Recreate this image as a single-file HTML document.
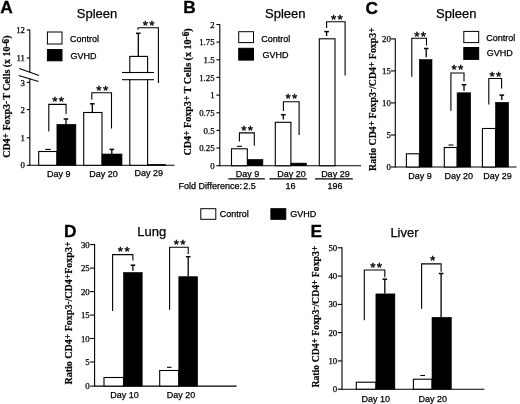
<!DOCTYPE html>
<html><head><meta charset="utf-8"><title>Figure</title>
<style>
html,body{margin:0;padding:0;background:#fff;}
body{width:520px;height:404px;overflow:hidden;font-family:"Liberation Sans",sans-serif;}
svg{display:block;filter:grayscale(1);}
text{fill:#000;}
</style></head><body>
<svg width="520" height="404" viewBox="0 0 520 404">
<rect x="0" y="0" width="520" height="404" fill="#fff"/>
<text x="0.3" y="13.3" font-size="17.3" text-anchor="start" font-family="Liberation Sans" font-weight="bold" stroke="#000" stroke-width="0.3">A</text>
<text x="76.8" y="18.0" font-size="13.0" text-anchor="start" font-family="Liberation Sans" font-weight="normal" stroke="#000" stroke-width="0.25">Spleen</text>
<line x1="29.8" y1="29.5" x2="29.8" y2="165.8" stroke="#000" stroke-width="1.1"/>
<line x1="26.8" y1="30.0" x2="29.8" y2="30.0" stroke="#000" stroke-width="1.1"/>
<text x="25.0" y="33.1" font-size="8.8" text-anchor="end" font-family="Liberation Serif" font-weight="normal" stroke="#000" stroke-width="0.25">12</text>
<line x1="26.8" y1="58.0" x2="29.8" y2="58.0" stroke="#000" stroke-width="1.1"/>
<text x="25.0" y="61.1" font-size="8.8" text-anchor="end" font-family="Liberation Serif" font-weight="normal" stroke="#000" stroke-width="0.25">11</text>
<line x1="26.8" y1="82.4" x2="29.8" y2="82.4" stroke="#000" stroke-width="1.1"/>
<text x="25.0" y="85.5" font-size="8.8" text-anchor="end" font-family="Liberation Serif" font-weight="normal" stroke="#000" stroke-width="0.25">3</text>
<line x1="26.8" y1="109.6" x2="29.8" y2="109.6" stroke="#000" stroke-width="1.1"/>
<text x="25.0" y="112.7" font-size="8.8" text-anchor="end" font-family="Liberation Serif" font-weight="normal" stroke="#000" stroke-width="0.25">2</text>
<line x1="26.8" y1="137.8" x2="29.8" y2="137.8" stroke="#000" stroke-width="1.1"/>
<text x="25.0" y="140.9" font-size="8.8" text-anchor="end" font-family="Liberation Serif" font-weight="normal" stroke="#000" stroke-width="0.25">1</text>
<line x1="26.8" y1="165.3" x2="29.8" y2="165.3" stroke="#000" stroke-width="1.1"/>
<text x="25.0" y="168.4" font-size="8.8" text-anchor="end" font-family="Liberation Serif" font-weight="normal" stroke="#000" stroke-width="0.25">0</text>
<rect x="28" y="72.3" width="4" height="6" fill="#fff"/>
<line x1="19.3" y1="68.6" x2="39.1" y2="75.4" stroke="#000" stroke-width="1.1"/>
<line x1="18.7" y1="75.4" x2="38.5" y2="81.6" stroke="#000" stroke-width="1.1"/>
<line x1="29.8" y1="165.3" x2="174.5" y2="165.3" stroke="#000" stroke-width="1.1"/>
<text transform="translate(10.3,157.8) rotate(-90)" font-size="10.4" font-family="Liberation Serif" font-weight="bold" stroke="#000" stroke-width="0.2" textLength="122.3" lengthAdjust="spacingAndGlyphs">CD4<tspan dy="-1.0" font-size="95%">+</tspan><tspan dy="1.0" font-size="1">&#8203;</tspan> Foxp3<tspan dy="-1.8" font-size="92%">-</tspan><tspan dy="1.8" font-size="1">&#8203;</tspan><tspan font-size="5"> </tspan>T Cells (x 10<tspan dy="-1.8" font-size="92%">-6</tspan><tspan dy="1.8" font-size="1">&#8203;</tspan>)</text>
<rect x="47.4" y="32.0" width="14.6" height="12.0" fill="#fff" stroke="#000" stroke-width="1"/>
<rect x="47.4" y="49.5" width="14.6" height="11.3" fill="#000" stroke="#000" stroke-width="1"/>
<text x="70.0" y="41.5" font-size="9.0" text-anchor="start" font-family="Liberation Sans" font-weight="normal" stroke="#000" stroke-width="0.25">Control</text>
<text x="70.5" y="58.5" font-size="9.0" text-anchor="start" font-family="Liberation Sans" font-weight="normal" stroke="#000" stroke-width="0.25">GVHD</text>
<rect x="38.7" y="151.5" width="18.2" height="13.8" fill="#fff" stroke="#000" stroke-width="1.1"/>
<rect x="56.9" y="124.3" width="19.0" height="41.0" fill="#000" stroke="#000" stroke-width="0.6"/>
<line x1="45.3" y1="149.4" x2="50.8" y2="149.4" stroke="#000" stroke-width="1.1"/>
<line x1="66.0" y1="119.0" x2="66.0" y2="124.3" stroke="#000" stroke-width="1.3"/>
<line x1="63.7" y1="119.0" x2="68.3" y2="119.0" stroke="#000" stroke-width="1.5"/>
<polyline points="48.8,131.5 48.8,104.4 66.1,104.4 66.1,113.9" fill="none" stroke="#000" stroke-width="1.1"/>
<text x="58.8" y="105.8" font-size="13.5" text-anchor="middle" font-family="Liberation Sans" font-weight="normal" letter-spacing="1.3" stroke="#000" stroke-width="0.4">**</text>
<rect x="83.7" y="112.5" width="18.3" height="52.8" fill="#fff" stroke="#000" stroke-width="1.1"/>
<rect x="102.0" y="154.0" width="20.0" height="11.3" fill="#000" stroke="#000" stroke-width="0.6"/>
<line x1="92.3" y1="103.8" x2="92.3" y2="112.5" stroke="#000" stroke-width="1.3"/>
<line x1="90.0" y1="103.8" x2="94.6" y2="103.8" stroke="#000" stroke-width="1.5"/>
<line x1="111.8" y1="149.4" x2="111.8" y2="154.0" stroke="#000" stroke-width="1.3"/>
<line x1="109.5" y1="149.4" x2="114.1" y2="149.4" stroke="#000" stroke-width="1.5"/>
<polyline points="91.8,99.8 91.8,92.8 111.5,92.8 111.5,128.6" fill="none" stroke="#000" stroke-width="1.1"/>
<text x="102.9" y="94.5" font-size="13.5" text-anchor="middle" font-family="Liberation Sans" font-weight="normal" letter-spacing="1.3" stroke="#000" stroke-width="0.4">**</text>
<rect x="129.8" y="56.4" width="17.8" height="108.9" fill="#fff" stroke="#000" stroke-width="1.1"/>
<rect x="147.6" y="164.3" width="17.9" height="1.0" fill="#000" stroke="#000" stroke-width="0.6"/>
<rect x="120" y="73.1" width="36" height="6" fill="#fff"/>
<line x1="122.0" y1="72.5" x2="153.9" y2="72.5" stroke="#000" stroke-width="1.1"/>
<line x1="122.0" y1="79.7" x2="153.9" y2="79.7" stroke="#000" stroke-width="1.1"/>
<line x1="138.3" y1="33.3" x2="138.3" y2="56.4" stroke="#000" stroke-width="1.3"/>
<line x1="136.0" y1="33.3" x2="140.6" y2="33.3" stroke="#000" stroke-width="1.5"/>
<polyline points="138.0,29.8 138.0,27.8 158.4,27.8 158.4,83.0" fill="none" stroke="#000" stroke-width="1.1"/>
<text x="149.3" y="29.7" font-size="13.5" text-anchor="middle" font-family="Liberation Sans" font-weight="normal" letter-spacing="1.3" stroke="#000" stroke-width="0.4">**</text>
<text x="58.7" y="177.0" font-size="9.0" text-anchor="middle" font-family="Liberation Sans" font-weight="normal" stroke="#000" stroke-width="0.25">Day 9</text>
<text x="103.5" y="177.0" font-size="9.0" text-anchor="middle" font-family="Liberation Sans" font-weight="normal" stroke="#000" stroke-width="0.25">Day 20</text>
<text x="148.8" y="176.1" font-size="9.0" text-anchor="middle" font-family="Liberation Sans" font-weight="normal" stroke="#000" stroke-width="0.25">Day 29</text>
<text x="183.3" y="12.8" font-size="17.3" text-anchor="start" font-family="Liberation Sans" font-weight="bold" stroke="#000" stroke-width="0.3">B</text>
<text x="265.0" y="18.0" font-size="13.0" text-anchor="start" font-family="Liberation Sans" font-weight="normal" stroke="#000" stroke-width="0.25">Spleen</text>
<line x1="219.8" y1="24.0" x2="219.8" y2="166.2" stroke="#000" stroke-width="1.1"/>
<line x1="216.4" y1="24.5" x2="219.8" y2="24.5" stroke="#000" stroke-width="1.1"/>
<text x="214.6" y="27.6" font-size="8.8" text-anchor="end" font-family="Liberation Serif" font-weight="normal" stroke="#000" stroke-width="0.25">2</text>
<line x1="216.4" y1="42.1" x2="219.8" y2="42.1" stroke="#000" stroke-width="1.1"/>
<text x="214.6" y="45.2" font-size="8.8" text-anchor="end" font-family="Liberation Serif" font-weight="normal" stroke="#000" stroke-width="0.25">1.75</text>
<line x1="216.4" y1="59.8" x2="219.8" y2="59.8" stroke="#000" stroke-width="1.1"/>
<text x="214.6" y="62.9" font-size="8.8" text-anchor="end" font-family="Liberation Serif" font-weight="normal" stroke="#000" stroke-width="0.25">1.5</text>
<line x1="216.4" y1="77.4" x2="219.8" y2="77.4" stroke="#000" stroke-width="1.1"/>
<text x="214.6" y="80.5" font-size="8.8" text-anchor="end" font-family="Liberation Serif" font-weight="normal" stroke="#000" stroke-width="0.25">1.25</text>
<line x1="216.4" y1="95.1" x2="219.8" y2="95.1" stroke="#000" stroke-width="1.1"/>
<text x="214.6" y="98.2" font-size="8.8" text-anchor="end" font-family="Liberation Serif" font-weight="normal" stroke="#000" stroke-width="0.25">1</text>
<line x1="216.4" y1="112.8" x2="219.8" y2="112.8" stroke="#000" stroke-width="1.1"/>
<text x="214.6" y="115.8" font-size="8.8" text-anchor="end" font-family="Liberation Serif" font-weight="normal" stroke="#000" stroke-width="0.25">0.75</text>
<line x1="216.4" y1="130.4" x2="219.8" y2="130.4" stroke="#000" stroke-width="1.1"/>
<text x="214.6" y="133.5" font-size="8.8" text-anchor="end" font-family="Liberation Serif" font-weight="normal" stroke="#000" stroke-width="0.25">0.5</text>
<line x1="216.4" y1="148.0" x2="219.8" y2="148.0" stroke="#000" stroke-width="1.1"/>
<text x="214.6" y="151.1" font-size="8.8" text-anchor="end" font-family="Liberation Serif" font-weight="normal" stroke="#000" stroke-width="0.25">0.25</text>
<line x1="216.4" y1="165.7" x2="219.8" y2="165.7" stroke="#000" stroke-width="1.1"/>
<text x="214.6" y="168.8" font-size="8.8" text-anchor="end" font-family="Liberation Serif" font-weight="normal" stroke="#000" stroke-width="0.25">0</text>
<line x1="219.8" y1="165.7" x2="361.0" y2="165.7" stroke="#000" stroke-width="1.1"/>
<text transform="translate(191.0,155.6) rotate(-90)" font-size="10.4" font-family="Liberation Serif" font-weight="bold" stroke="#000" stroke-width="0.2" textLength="127.3" lengthAdjust="spacingAndGlyphs">CD4<tspan dy="-1.0" font-size="95%">+</tspan><tspan dy="1.0" font-size="1">&#8203;</tspan> Foxp3<tspan dy="-1.0" font-size="95%">+</tspan><tspan dy="1.0" font-size="1">&#8203;</tspan> T Cells (x 10<tspan dy="-1.8" font-size="92%">-6</tspan><tspan dy="1.8" font-size="1">&#8203;</tspan>)</text>
<rect x="238.7" y="31.7" width="14.8" height="10.9" fill="#fff" stroke="#000" stroke-width="1"/>
<rect x="238.7" y="48.3" width="14.8" height="11.8" fill="#000" stroke="#000" stroke-width="1"/>
<text x="261.2" y="41.6" font-size="9.0" text-anchor="start" font-family="Liberation Sans" font-weight="normal" stroke="#000" stroke-width="0.25">Control</text>
<text x="262.5" y="58.0" font-size="9.0" text-anchor="start" font-family="Liberation Sans" font-weight="normal" stroke="#000" stroke-width="0.25">GVHD</text>
<rect x="231.5" y="148.8" width="15.8" height="16.9" fill="#fff" stroke="#000" stroke-width="1.1"/>
<rect x="247.3" y="159.4" width="15.6" height="6.3" fill="#000" stroke="#000" stroke-width="0.6"/>
<line x1="237.0" y1="146.3" x2="242.0" y2="146.3" stroke="#000" stroke-width="1.1"/>
<polyline points="239.4,141.6 239.4,132.9 254.3,132.9 254.3,145.8" fill="none" stroke="#000" stroke-width="1.1"/>
<text x="247.8" y="135.3" font-size="13.5" text-anchor="middle" font-family="Liberation Sans" font-weight="normal" letter-spacing="1.3" stroke="#000" stroke-width="0.4">**</text>
<rect x="275.3" y="122.3" width="15.6" height="43.4" fill="#fff" stroke="#000" stroke-width="1.1"/>
<rect x="290.9" y="163.1" width="15.6" height="2.6" fill="#000" stroke="#000" stroke-width="0.6"/>
<line x1="283.3" y1="114.7" x2="283.3" y2="119.5" stroke="#000" stroke-width="1.3"/>
<line x1="281.0" y1="114.7" x2="285.6" y2="114.7" stroke="#000" stroke-width="1.5"/>
<polyline points="283.4,111.0 283.4,101.7 299.1,101.7 299.1,135.0" fill="none" stroke="#000" stroke-width="1.1"/>
<text x="292.0" y="103.3" font-size="13.5" text-anchor="middle" font-family="Liberation Sans" font-weight="normal" letter-spacing="1.3" stroke="#000" stroke-width="0.4">**</text>
<rect x="319.3" y="38.8" width="15.7" height="126.9" fill="#fff" stroke="#000" stroke-width="1.1"/>
<line x1="326.6" y1="31.6" x2="326.6" y2="36.0" stroke="#000" stroke-width="1.3"/>
<line x1="324.3" y1="31.6" x2="328.9" y2="31.6" stroke="#000" stroke-width="1.5"/>
<polyline points="326.6,27.9 326.6,21.8 345.1,21.8 345.1,75.5" fill="none" stroke="#000" stroke-width="1.1"/>
<text x="337.5" y="23.7" font-size="13.5" text-anchor="middle" font-family="Liberation Sans" font-weight="normal" letter-spacing="1.3" stroke="#000" stroke-width="0.4">**</text>
<text x="247.6" y="176.9" font-size="9.0" text-anchor="middle" font-family="Liberation Sans" font-weight="normal" stroke="#000" stroke-width="0.25">Day 9</text>
<text x="291.6" y="176.9" font-size="9.0" text-anchor="middle" font-family="Liberation Sans" font-weight="normal" stroke="#000" stroke-width="0.25">Day 20</text>
<text x="335.4" y="176.9" font-size="9.0" text-anchor="middle" font-family="Liberation Sans" font-weight="normal" stroke="#000" stroke-width="0.25">Day 29</text>
<line x1="228.3" y1="178.9" x2="264.9" y2="178.9" stroke="#000" stroke-width="1.1"/>
<line x1="269.4" y1="178.9" x2="307.0" y2="178.9" stroke="#000" stroke-width="1.1"/>
<line x1="315.0" y1="178.9" x2="352.8" y2="178.9" stroke="#000" stroke-width="1.1"/>
<text x="178.6" y="189.3" font-size="9.0" text-anchor="start" font-family="Liberation Sans" font-weight="normal" stroke="#000" stroke-width="0.25">Fold Difference:</text>
<text x="249.5" y="189.3" font-size="9.0" text-anchor="middle" font-family="Liberation Sans" font-weight="normal" stroke="#000" stroke-width="0.25">2.5</text>
<text x="290.4" y="189.3" font-size="9.0" text-anchor="middle" font-family="Liberation Sans" font-weight="normal" stroke="#000" stroke-width="0.25">16</text>
<text x="335.0" y="189.3" font-size="9.0" text-anchor="middle" font-family="Liberation Sans" font-weight="normal" stroke="#000" stroke-width="0.25">196</text>
<text x="365.6" y="13.8" font-size="17.3" text-anchor="start" font-family="Liberation Sans" font-weight="bold" stroke="#000" stroke-width="0.3">C</text>
<text x="436.0" y="17.9" font-size="13.0" text-anchor="start" font-family="Liberation Sans" font-weight="normal" stroke="#000" stroke-width="0.25">Spleen</text>
<line x1="395.3" y1="38.4" x2="395.3" y2="167.5" stroke="#000" stroke-width="1.1"/>
<line x1="391.0" y1="38.9" x2="395.3" y2="38.9" stroke="#000" stroke-width="1.1"/>
<text x="390.9" y="42.0" font-size="8.8" text-anchor="end" font-family="Liberation Serif" font-weight="normal" stroke="#000" stroke-width="0.25">20</text>
<line x1="391.0" y1="70.9" x2="395.3" y2="70.9" stroke="#000" stroke-width="1.1"/>
<text x="390.9" y="74.0" font-size="8.8" text-anchor="end" font-family="Liberation Serif" font-weight="normal" stroke="#000" stroke-width="0.25">15</text>
<line x1="391.0" y1="102.9" x2="395.3" y2="102.9" stroke="#000" stroke-width="1.1"/>
<text x="390.9" y="106.0" font-size="8.8" text-anchor="end" font-family="Liberation Serif" font-weight="normal" stroke="#000" stroke-width="0.25">10</text>
<line x1="391.0" y1="135.0" x2="395.3" y2="135.0" stroke="#000" stroke-width="1.1"/>
<text x="390.9" y="138.1" font-size="8.8" text-anchor="end" font-family="Liberation Serif" font-weight="normal" stroke="#000" stroke-width="0.25">5</text>
<line x1="391.0" y1="167.0" x2="395.3" y2="167.0" stroke="#000" stroke-width="1.1"/>
<text x="390.9" y="170.1" font-size="8.8" text-anchor="end" font-family="Liberation Serif" font-weight="normal" stroke="#000" stroke-width="0.25">0</text>
<line x1="395.3" y1="167.0" x2="516.5" y2="167.0" stroke="#000" stroke-width="1.1"/>
<text transform="translate(376.0,171.0) rotate(-90)" font-size="10.5" font-family="Liberation Serif" font-weight="bold" stroke="#000" stroke-width="0.2" textLength="143.6" lengthAdjust="spacingAndGlyphs">Ratio CD4<tspan dy="-1.0" font-size="95%">+</tspan><tspan dy="1.0" font-size="1">&#8203;</tspan> Foxp3<tspan dy="-1.8" font-size="92%">-</tspan><tspan dy="1.8" font-size="1">&#8203;</tspan>/CD4<tspan dy="-1.0" font-size="95%">+</tspan><tspan dy="1.0" font-size="1">&#8203;</tspan> Foxp3<tspan dy="-1.0" font-size="95%">+</tspan><tspan dy="1.0" font-size="1">&#8203;</tspan></text>
<rect x="463.8" y="31.4" width="14.9" height="11.2" fill="#fff" stroke="#000" stroke-width="1"/>
<rect x="463.8" y="47.5" width="14.9" height="11.9" fill="#000" stroke="#000" stroke-width="1"/>
<text x="486.3" y="40.6" font-size="9.0" text-anchor="start" font-family="Liberation Sans" font-weight="normal" stroke="#000" stroke-width="0.25">Control</text>
<text x="486.8" y="56.3" font-size="9.0" text-anchor="start" font-family="Liberation Sans" font-weight="normal" stroke="#000" stroke-width="0.25">GVHD</text>
<rect x="406.4" y="153.8" width="12.9" height="13.2" fill="#fff" stroke="#000" stroke-width="1.1"/>
<rect x="419.3" y="59.6" width="12.7" height="107.4" fill="#000" stroke="#000" stroke-width="0.6"/>
<line x1="426.2" y1="48.5" x2="426.2" y2="57.3" stroke="#000" stroke-width="1.3"/>
<line x1="423.9" y1="48.5" x2="428.5" y2="48.5" stroke="#000" stroke-width="1.5"/>
<polyline points="411.8,76.7 411.8,38.3 426.5,38.3 426.5,45.4" fill="none" stroke="#000" stroke-width="1.1"/>
<text x="420.8" y="40.6" font-size="13.5" text-anchor="middle" font-family="Liberation Sans" font-weight="normal" letter-spacing="1.3" stroke="#000" stroke-width="0.4">**</text>
<rect x="444.3" y="147.5" width="12.8" height="19.5" fill="#fff" stroke="#000" stroke-width="1.1"/>
<rect x="457.1" y="92.8" width="13.6" height="74.2" fill="#000" stroke="#000" stroke-width="0.6"/>
<line x1="448.5" y1="145.0" x2="453.4" y2="145.0" stroke="#000" stroke-width="1.1"/>
<line x1="464.0" y1="84.8" x2="464.0" y2="90.8" stroke="#000" stroke-width="1.3"/>
<line x1="461.7" y1="84.8" x2="466.3" y2="84.8" stroke="#000" stroke-width="1.5"/>
<polyline points="450.9,110.8 450.9,73.0 464.0,73.0 464.0,81.5" fill="none" stroke="#000" stroke-width="1.1"/>
<text x="458.1" y="74.0" font-size="13.5" text-anchor="middle" font-family="Liberation Sans" font-weight="normal" letter-spacing="1.3" stroke="#000" stroke-width="0.4">**</text>
<rect x="482.4" y="128.5" width="13.1" height="38.5" fill="#fff" stroke="#000" stroke-width="1.1"/>
<rect x="495.5" y="102.3" width="13.1" height="64.7" fill="#000" stroke="#000" stroke-width="0.6"/>
<line x1="501.8" y1="95.1" x2="501.8" y2="100.0" stroke="#000" stroke-width="1.3"/>
<line x1="499.5" y1="95.1" x2="504.1" y2="95.1" stroke="#000" stroke-width="1.5"/>
<polyline points="488.8,104.6 488.8,78.5 501.6,78.5 501.6,88.5" fill="none" stroke="#000" stroke-width="1.1"/>
<text x="496.0" y="80.9" font-size="13.5" text-anchor="middle" font-family="Liberation Sans" font-weight="normal" letter-spacing="1.3" stroke="#000" stroke-width="0.4">**</text>
<text x="420.0" y="178.8" font-size="9.0" text-anchor="middle" font-family="Liberation Sans" font-weight="normal" stroke="#000" stroke-width="0.25">Day 9</text>
<text x="458.7" y="178.8" font-size="9.0" text-anchor="middle" font-family="Liberation Sans" font-weight="normal" stroke="#000" stroke-width="0.25">Day 20</text>
<text x="497.5" y="178.8" font-size="9.0" text-anchor="middle" font-family="Liberation Sans" font-weight="normal" stroke="#000" stroke-width="0.25">Day 29</text>
<rect x="200.8" y="208.7" width="15.0" height="10.6" fill="#fff" stroke="#000" stroke-width="1"/>
<rect x="270.9" y="208.7" width="14.9" height="10.6" fill="#000" stroke="#000" stroke-width="1"/>
<text x="219.8" y="216.8" font-size="9.0" text-anchor="start" font-family="Liberation Sans" font-weight="normal" stroke="#000" stroke-width="0.25">Control</text>
<text x="290.2" y="216.8" font-size="9.0" text-anchor="start" font-family="Liberation Sans" font-weight="normal" stroke="#000" stroke-width="0.25">GVHD</text>
<text x="64.0" y="236.9" font-size="17.3" text-anchor="start" font-family="Liberation Sans" font-weight="bold" stroke="#000" stroke-width="0.3">D</text>
<text x="137.2" y="236.2" font-size="13.0" text-anchor="start" font-family="Liberation Sans" font-weight="normal" stroke="#000" stroke-width="0.25">Lung</text>
<line x1="94.6" y1="244.1" x2="94.6" y2="386.6" stroke="#000" stroke-width="1.1"/>
<line x1="90.1" y1="244.6" x2="94.6" y2="244.6" stroke="#000" stroke-width="1.1"/>
<text x="89.7" y="247.7" font-size="8.8" text-anchor="end" font-family="Liberation Serif" font-weight="normal" stroke="#000" stroke-width="0.25">30</text>
<line x1="90.1" y1="268.1" x2="94.6" y2="268.1" stroke="#000" stroke-width="1.1"/>
<text x="89.7" y="271.2" font-size="8.8" text-anchor="end" font-family="Liberation Serif" font-weight="normal" stroke="#000" stroke-width="0.25">25</text>
<line x1="90.1" y1="291.6" x2="94.6" y2="291.6" stroke="#000" stroke-width="1.1"/>
<text x="89.7" y="294.6" font-size="8.8" text-anchor="end" font-family="Liberation Serif" font-weight="normal" stroke="#000" stroke-width="0.25">20</text>
<line x1="90.1" y1="315.1" x2="94.6" y2="315.1" stroke="#000" stroke-width="1.1"/>
<text x="89.7" y="318.1" font-size="8.8" text-anchor="end" font-family="Liberation Serif" font-weight="normal" stroke="#000" stroke-width="0.25">15</text>
<line x1="90.1" y1="338.5" x2="94.6" y2="338.5" stroke="#000" stroke-width="1.1"/>
<text x="89.7" y="341.6" font-size="8.8" text-anchor="end" font-family="Liberation Serif" font-weight="normal" stroke="#000" stroke-width="0.25">10</text>
<line x1="90.1" y1="362.0" x2="94.6" y2="362.0" stroke="#000" stroke-width="1.1"/>
<text x="89.7" y="365.1" font-size="8.8" text-anchor="end" font-family="Liberation Serif" font-weight="normal" stroke="#000" stroke-width="0.25">5</text>
<line x1="90.1" y1="386.1" x2="94.6" y2="386.1" stroke="#000" stroke-width="1.1"/>
<text x="89.7" y="389.2" font-size="8.8" text-anchor="end" font-family="Liberation Serif" font-weight="normal" stroke="#000" stroke-width="0.25">0</text>
<line x1="94.6" y1="386.1" x2="236.6" y2="386.1" stroke="#000" stroke-width="1.1"/>
<text transform="translate(72.4,384.6) rotate(-90)" font-size="10.5" font-family="Liberation Serif" font-weight="bold" stroke="#000" stroke-width="0.2" textLength="143" lengthAdjust="spacingAndGlyphs">Ratio CD4<tspan dy="-1.0" font-size="95%">+</tspan><tspan dy="1.0" font-size="1">&#8203;</tspan> Foxp3<tspan dy="-1.8" font-size="92%">-</tspan><tspan dy="1.8" font-size="1">&#8203;</tspan>/CD4<tspan dy="-1.0" font-size="95%">+</tspan><tspan dy="1.0" font-size="1">&#8203;</tspan>Foxp3<tspan dy="-1.0" font-size="95%">+</tspan><tspan dy="1.0" font-size="1">&#8203;</tspan></text>
<rect x="104.0" y="377.5" width="19.5" height="8.6" fill="#fff" stroke="#000" stroke-width="1.1"/>
<rect x="123.5" y="272.5" width="18.7" height="113.6" fill="#000" stroke="#000" stroke-width="0.6"/>
<line x1="132.9" y1="265.2" x2="132.9" y2="270.8" stroke="#000" stroke-width="1.3"/>
<line x1="130.6" y1="265.2" x2="135.2" y2="265.2" stroke="#000" stroke-width="1.5"/>
<polyline points="112.6,310.9 112.6,254.6 132.9,254.6 132.9,260.6" fill="none" stroke="#000" stroke-width="1.1"/>
<text x="124.4" y="256.3" font-size="13.5" text-anchor="middle" font-family="Liberation Sans" font-weight="normal" letter-spacing="1.3" stroke="#000" stroke-width="0.4">**</text>
<rect x="159.7" y="370.5" width="19.1" height="15.6" fill="#fff" stroke="#000" stroke-width="1.1"/>
<rect x="178.8" y="276.7" width="18.8" height="109.4" fill="#000" stroke="#000" stroke-width="0.6"/>
<line x1="167.0" y1="367.3" x2="171.6" y2="367.3" stroke="#000" stroke-width="1.1"/>
<line x1="188.2" y1="256.7" x2="188.2" y2="276.7" stroke="#000" stroke-width="1.3"/>
<line x1="185.9" y1="256.7" x2="190.5" y2="256.7" stroke="#000" stroke-width="1.5"/>
<polyline points="169.6,309.8 169.6,247.2 188.2,247.2 188.2,253.9" fill="none" stroke="#000" stroke-width="1.1"/>
<text x="180.3" y="248.8" font-size="13.5" text-anchor="middle" font-family="Liberation Sans" font-weight="normal" letter-spacing="1.3" stroke="#000" stroke-width="0.4">**</text>
<text x="124.5" y="397.6" font-size="9.0" text-anchor="middle" font-family="Liberation Sans" font-weight="normal" stroke="#000" stroke-width="0.25">Day 10</text>
<text x="181.0" y="397.6" font-size="9.0" text-anchor="middle" font-family="Liberation Sans" font-weight="normal" stroke="#000" stroke-width="0.25">Day 20</text>
<text x="310.4" y="237.4" font-size="17.3" text-anchor="start" font-family="Liberation Sans" font-weight="bold" stroke="#000" stroke-width="0.3">E</text>
<text x="390.4" y="236.6" font-size="13.0" text-anchor="start" font-family="Liberation Sans" font-weight="normal" stroke="#000" stroke-width="0.25">Liver</text>
<line x1="342.0" y1="247.3" x2="342.0" y2="389.7" stroke="#000" stroke-width="1.1"/>
<line x1="337.7" y1="247.8" x2="342.0" y2="247.8" stroke="#000" stroke-width="1.1"/>
<text x="337.2" y="250.9" font-size="8.8" text-anchor="end" font-family="Liberation Serif" font-weight="normal" stroke="#000" stroke-width="0.25">50</text>
<line x1="337.7" y1="276.1" x2="342.0" y2="276.1" stroke="#000" stroke-width="1.1"/>
<text x="337.2" y="279.2" font-size="8.8" text-anchor="end" font-family="Liberation Serif" font-weight="normal" stroke="#000" stroke-width="0.25">40</text>
<line x1="337.7" y1="304.4" x2="342.0" y2="304.4" stroke="#000" stroke-width="1.1"/>
<text x="337.2" y="307.4" font-size="8.8" text-anchor="end" font-family="Liberation Serif" font-weight="normal" stroke="#000" stroke-width="0.25">30</text>
<line x1="337.7" y1="332.6" x2="342.0" y2="332.6" stroke="#000" stroke-width="1.1"/>
<text x="337.2" y="335.7" font-size="8.8" text-anchor="end" font-family="Liberation Serif" font-weight="normal" stroke="#000" stroke-width="0.25">20</text>
<line x1="337.7" y1="360.9" x2="342.0" y2="360.9" stroke="#000" stroke-width="1.1"/>
<text x="337.2" y="364.0" font-size="8.8" text-anchor="end" font-family="Liberation Serif" font-weight="normal" stroke="#000" stroke-width="0.25">10</text>
<line x1="337.7" y1="389.2" x2="342.0" y2="389.2" stroke="#000" stroke-width="1.1"/>
<text x="337.2" y="392.3" font-size="8.8" text-anchor="end" font-family="Liberation Serif" font-weight="normal" stroke="#000" stroke-width="0.25">0</text>
<line x1="342.0" y1="389.2" x2="484.4" y2="389.2" stroke="#000" stroke-width="1.1"/>
<text transform="translate(319.2,387.6) rotate(-90)" font-size="10.5" font-family="Liberation Serif" font-weight="bold" stroke="#000" stroke-width="0.2" textLength="141.8" lengthAdjust="spacingAndGlyphs">Ratio CD4<tspan dy="-1.0" font-size="95%">+</tspan><tspan dy="1.0" font-size="1">&#8203;</tspan> Foxp3<tspan dy="-1.8" font-size="92%">-</tspan><tspan dy="1.8" font-size="1">&#8203;</tspan>/CD4<tspan dy="-1.0" font-size="95%">+</tspan><tspan dy="1.0" font-size="1">&#8203;</tspan> Foxp3<tspan dy="-1.0" font-size="95%">+</tspan><tspan dy="1.0" font-size="1">&#8203;</tspan></text>
<rect x="356.3" y="382.2" width="19.6" height="7.0" fill="#fff" stroke="#000" stroke-width="1.1"/>
<rect x="375.9" y="293.9" width="19.0" height="95.3" fill="#000" stroke="#000" stroke-width="0.6"/>
<line x1="384.8" y1="279.2" x2="384.8" y2="293.6" stroke="#000" stroke-width="1.3"/>
<line x1="382.5" y1="279.2" x2="387.1" y2="279.2" stroke="#000" stroke-width="1.5"/>
<polyline points="364.3,320.3 364.3,270.0 384.8,270.0 384.8,277.2" fill="none" stroke="#000" stroke-width="1.1"/>
<text x="376.8" y="271.9" font-size="13.5" text-anchor="middle" font-family="Liberation Sans" font-weight="normal" letter-spacing="1.3" stroke="#000" stroke-width="0.4">**</text>
<rect x="413.4" y="379.2" width="18.6" height="10.0" fill="#fff" stroke="#000" stroke-width="1.1"/>
<rect x="432.0" y="317.3" width="19.3" height="71.9" fill="#000" stroke="#000" stroke-width="0.6"/>
<line x1="420.3" y1="375.5" x2="425.0" y2="375.5" stroke="#000" stroke-width="1.1"/>
<line x1="441.1" y1="273.5" x2="441.1" y2="317.3" stroke="#000" stroke-width="1.3"/>
<line x1="438.8" y1="273.5" x2="443.4" y2="273.5" stroke="#000" stroke-width="1.5"/>
<polyline points="421.6,308.7 421.6,263.9 441.1,263.9 441.1,271.8" fill="none" stroke="#000" stroke-width="1.1"/>
<text x="433.4" y="265.2" font-size="13.5" text-anchor="middle" font-family="Liberation Sans" font-weight="normal" letter-spacing="1.3" stroke="#000" stroke-width="0.4">*</text>
<text x="375.8" y="401.8" font-size="9.0" text-anchor="middle" font-family="Liberation Sans" font-weight="normal" stroke="#000" stroke-width="0.25">Day 10</text>
<text x="432.8" y="401.8" font-size="9.0" text-anchor="middle" font-family="Liberation Sans" font-weight="normal" stroke="#000" stroke-width="0.25">Day 20</text>
</svg>
</body></html>
